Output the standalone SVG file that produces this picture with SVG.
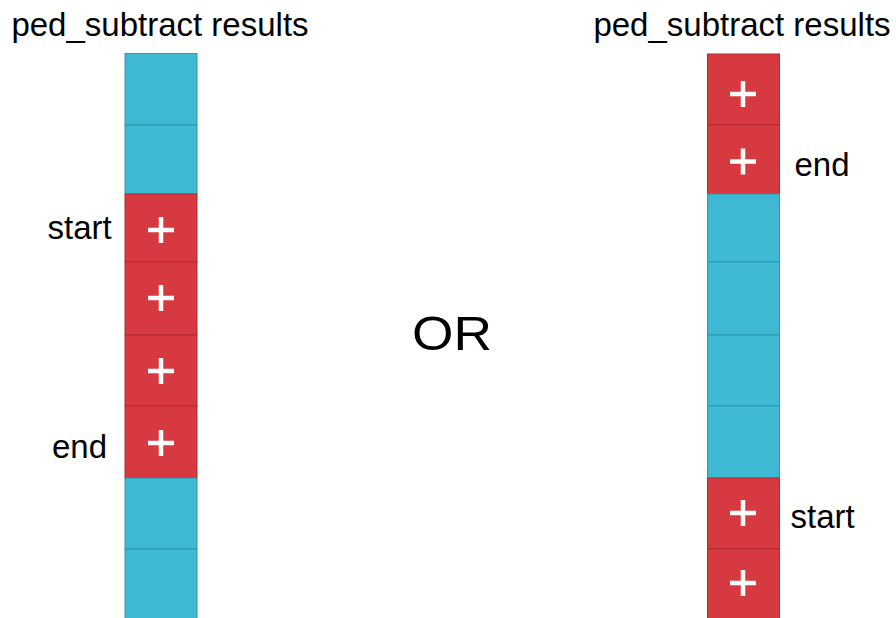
<svg xmlns="http://www.w3.org/2000/svg" width="896" height="618" viewBox="0 0 896 618">
<style>
.t{font-family:"Liberation Sans",Arial,sans-serif;font-size:33px;fill:#000}
.b{fill:#3FB9D3;stroke:#2E98AE;stroke-width:1}
.r{fill:#D6393F;stroke:#B02C31;stroke-width:1}
.p{stroke:#fff;stroke-width:4.5;fill:none}
</style>
<defs>
<path id="plus" class="p" d="M-13 0H13M0 -13V13"/>
</defs>
<rect width="896" height="618" fill="#fff"/>
<g id="left-title"><text class="t" x="160" y="36" text-anchor="middle">ped_subtract results</text></g>
<g id="right-title"><text class="t" x="742" y="36" text-anchor="middle">ped_subtract results</text></g>
<g id="left-column">
<g id="L1"><rect class="b" x="125" y="53.5" width="72" height="71.5"/></g>
<g id="L2"><rect class="b" x="125" y="125" width="72" height="69"/></g>
<g id="L3"><rect class="r" x="125" y="194" width="72" height="68"/><use href="#plus" x="161" y="230"/></g>
<g id="L4"><rect class="r" x="125" y="262" width="72" height="73"/><use href="#plus" x="161" y="298"/></g>
<g id="L5"><rect class="r" x="125" y="335" width="72" height="71"/><use href="#plus" x="161" y="371"/></g>
<g id="L6"><rect class="r" x="125" y="406" width="72" height="72"/><use href="#plus" x="161" y="443"/></g>
<g id="L7"><rect class="b" x="125" y="478" width="72" height="71"/></g>
<g id="L8"><rect class="b" x="125" y="549" width="72" height="70"/></g>
</g>
<g id="right-column">
<g id="R1"><rect class="r" x="707.5" y="54" width="72" height="71"/><use href="#plus" x="743" y="94"/></g>
<g id="R2"><rect class="r" x="707.5" y="125" width="72" height="69"/><use href="#plus" x="743" y="161.5"/></g>
<g id="R3"><rect class="b" x="707.5" y="194" width="72" height="68"/></g>
<g id="R4"><rect class="b" x="707.5" y="262" width="72" height="73"/></g>
<g id="R5"><rect class="b" x="707.5" y="335" width="72" height="71"/></g>
<g id="R6"><rect class="b" x="707.5" y="406" width="72" height="72"/></g>
<g id="R7"><rect class="r" x="707.5" y="478" width="72" height="71"/><use href="#plus" x="743" y="513"/></g>
<g id="R8"><rect class="r" x="707.5" y="549" width="72" height="70"/><use href="#plus" x="743" y="583"/></g>
</g>
<g id="labels">
<text class="t" x="47.5" y="239">start</text>
<text class="t" x="52" y="457.5">end</text>
<text class="t" x="794.5" y="176">end</text>
<text class="t" x="790.5" y="528">start</text>
<text class="t" x="412" y="350" style="font-size:49px" textLength="80" lengthAdjust="spacingAndGlyphs">OR</text>
</g>
</svg>
